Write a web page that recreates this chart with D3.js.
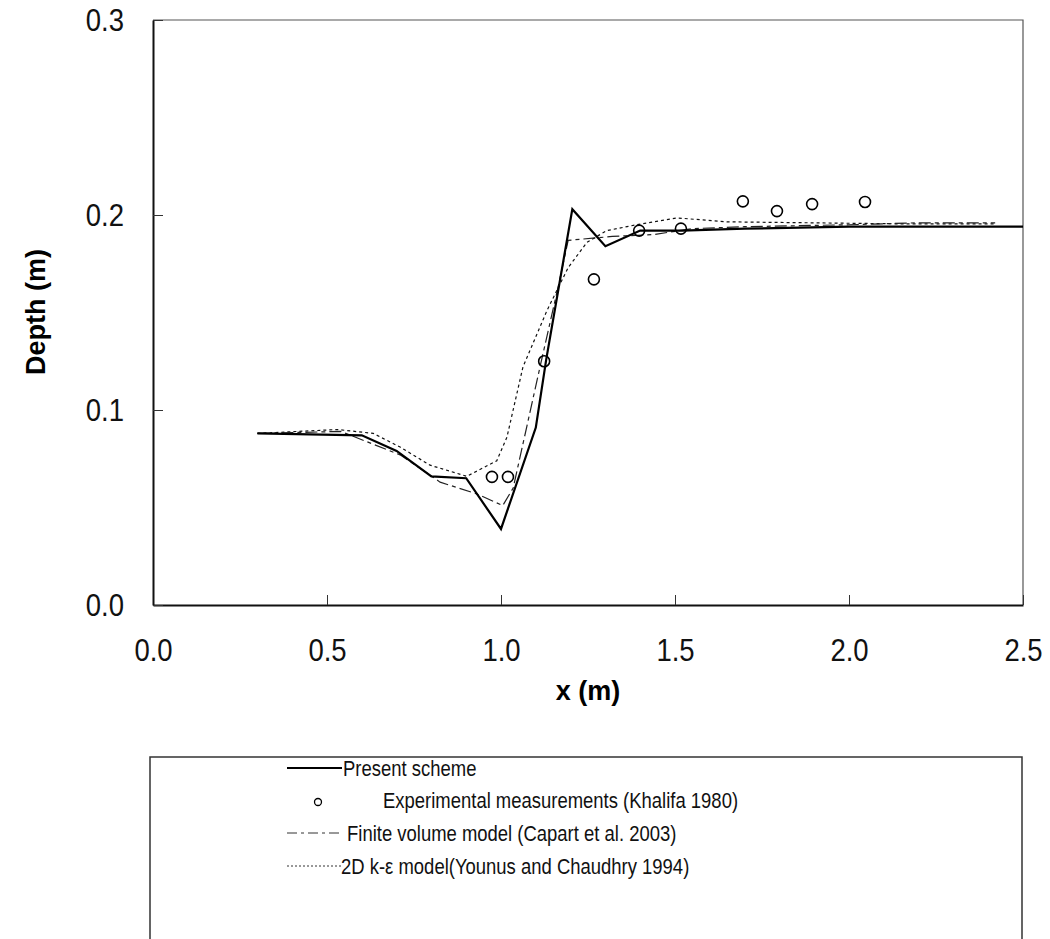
<!DOCTYPE html>
<html>
<head>
<meta charset="utf-8">
<script src="https://cdn.jsdelivr.net/npm/d3@7"></script>
<style>
  body { margin: 0; background: #fff; }
  svg { display: block; }
</style>
</head>
<body>
<svg id="chart" width="1050" height="939"></svg>
<script>
// data
const presentX = [0.30, 0.60, 0.70, 0.80, 0.90, 1.00, 1.10, 1.13, 1.205, 1.30, 1.40, 1.52, 1.70, 2.00, 2.50];
const presentY = [0.088, 0.087, 0.079, 0.066, 0.065, 0.039, 0.091, 0.126, 0.203, 0.184, 0.192, 0.192, 0.193, 0.194, 0.194];

const expX = [0.974, 1.02, 1.124, 1.267, 1.397, 1.517, 1.695, 1.793, 1.894, 2.046];
const expY = [0.0657, 0.0657, 0.125, 0.167, 0.192, 0.193, 0.207, 0.202, 0.2056, 0.2067];

const capartX = [0.30, 0.54, 0.71, 0.825, 0.93, 1.005, 1.035, 1.112, 1.164, 1.193, 1.32, 1.44, 1.55, 1.70, 2.00, 2.20, 2.42];
const capartY = [0.088, 0.089, 0.077, 0.063, 0.057, 0.051, 0.060, 0.122, 0.163, 0.187, 0.189, 0.190, 0.193, 0.194, 0.195, 0.196, 0.196];

const keX = [0.30, 0.53, 0.633, 0.71, 0.796, 0.902, 0.988, 1.017, 1.063, 1.132, 1.193, 1.247, 1.304, 1.39, 1.506, 1.649, 1.888, 2.127, 2.42];
const keY = [0.088, 0.090, 0.088, 0.081, 0.0717, 0.066, 0.074, 0.086, 0.122, 0.151, 0.173, 0.186, 0.192, 0.195, 0.1985, 0.1965, 0.196, 0.1955, 0.1955];

const xTicks = [0, 0.5, 1.0, 1.5, 2.0, 2.5];
const yTicks = [0, 0.1, 0.2, 0.3];

const legendLabels = [
    "Present scheme",
    "Experimental measurements (Khalifa 1980)",
    "Finite volume model (Capart et al. 2003)",
    "2D k-\u03b5 model(Younus and Chaudhry 1994)"
];

const
    svg = d3.select('#chart'),
    font = '"Liberation Sans", Arial, sans-serif',
    squeeze = 0.86,   // the original type is a narrow face
    legSqueeze = 0.84,
    plot = { left: 153, right: 1023, top: 20, bottom: 605 };

const x = d3.scaleLinear().domain([0, 2.5]).range([plot.left, plot.right]);
const y = d3.scaleLinear().domain([0, 0.3]).range([plot.bottom, plot.top]);

// frame (top and right, thin)
svg.append('path')
    .attr('d', `M${plot.left},${plot.top}H${plot.right}V${plot.bottom}`)
    .attr('fill', 'none')
    .attr('stroke', '#555')
    .attr('stroke-width', 1.2);

// axes
const xAxis = svg.append('g')
    .attr('transform', `translate(0,${plot.bottom})`)
    .call(d3.axisBottom(x).tickValues(xTicks).tickFormat(d3.format('.1f'))
        .tickSizeInner(-10).tickSizeOuter(0).tickPadding(33));

const yAxis = svg.append('g')
    .attr('transform', `translate(${plot.left},0)`)
    .call(d3.axisLeft(y).tickValues(yTicks).tickFormat(d3.format('.1f'))
        .tickSizeInner(-10).tickSizeOuter(0).tickPadding(29));

[xAxis, yAxis].forEach(g => {
    g.select('.domain').attr('stroke', '#111').attr('stroke-width', 2);
    g.selectAll('.tick line').attr('stroke', '#333').attr('stroke-width', 1);
    g.selectAll('.tick text')
        .attr('font-family', font)
        .attr('font-size', 32)
        .attr('fill', '#111')
        .attr('transform', `scale(${squeeze},1)`);
});
yAxis.selectAll('.tick text').attr('x', -29 / squeeze);

// axis titles
svg.append('text')
    .attr('x', (plot.left + plot.right) / 2)
    .attr('y', 700)
    .attr('text-anchor', 'middle')
    .attr('font-family', font)
    .attr('font-weight', 'bold')
    .attr('font-size', 27)
    .text('x (m)');

svg.append('text')
    .attr('transform', 'translate(45,312) rotate(-90)')
    .attr('text-anchor', 'middle')
    .attr('font-family', font)
    .attr('font-weight', 'bold')
    .attr('font-size', 27)
    .text('Depth (m)');

// lines
const line = d3.line().x(d => x(d[0])).y(d => y(d[1]));

svg.append('path')
    .datum(d3.zip(keX, keY))
    .attr('d', line)
    .attr('fill', 'none')
    .attr('stroke', '#111')
    .attr('stroke-width', 1.2)
    .attr('stroke-dasharray', '3,3');

svg.append('path')
    .datum(d3.zip(capartX, capartY))
    .attr('d', line)
    .attr('fill', 'none')
    .attr('stroke', '#222')
    .attr('stroke-width', 1.2)
    .attr('stroke-dasharray', '12,4,4,4');

svg.append('path')
    .datum(d3.zip(presentX, presentY))
    .attr('d', line)
    .attr('fill', 'none')
    .attr('stroke', '#000')
    .attr('stroke-width', 2.2);

svg.append('g')
    .selectAll('circle')
    .data(d3.zip(expX, expY))
    .join('circle')
    .attr('cx', d => x(d[0]))
    .attr('cy', d => y(d[1]))
    .attr('r', 5.5)
    .attr('fill', 'none')
    .attr('stroke', '#000')
    .attr('stroke-width', 1.6);

// legend box (open at the bottom)
svg.append('path')
    .attr('d', 'M150,939V757H1022V939')
    .attr('fill', 'none')
    .attr('stroke', '#333')
    .attr('stroke-width', 1.5);

const legendY = [768, 800, 833, 866];
const legendTextX = [343, 383, 347, 341];
const leg = svg.append('g');

leg.append('line').attr('x1', 287).attr('x2', 342).attr('y1', legendY[0]).attr('y2', legendY[0])
    .attr('stroke', '#000').attr('stroke-width', 2);
leg.append('circle').attr('cx', 318).attr('cy', legendY[1] + 2).attr('r', 3.5)
    .attr('fill', 'none').attr('stroke', '#000').attr('stroke-width', 1.3);
leg.append('line').attr('x1', 287).attr('x2', 342).attr('y1', legendY[2]).attr('y2', legendY[2])
    .attr('stroke', '#333').attr('stroke-width', 1).attr('stroke-dasharray', '10,4,3,4');
leg.append('line').attr('x1', 287).attr('x2', 342).attr('y1', legendY[3]).attr('y2', legendY[3])
    .attr('stroke', '#333').attr('stroke-width', 1).attr('stroke-dasharray', '2,2');

leg.selectAll('text')
    .data(legendLabels)
    .join('text')
    .attr('transform', (d, i) => `translate(${legendTextX[i]},${legendY[i] + 8}) scale(${legSqueeze},1)`)
    .attr('font-family', font)
    .attr('font-size', 22)
    .attr('fill', '#111')
    .text(d => d);
</script>
</body>
</html>
